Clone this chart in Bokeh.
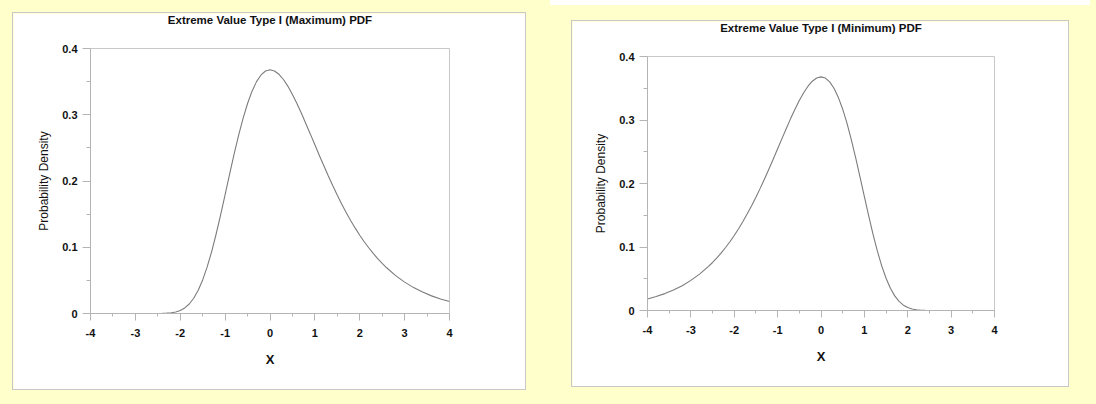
from bokeh.plotting import figure
from bokeh.layouts import row
from bokeh.models import Range1d, FixedTicker, Title
from bokeh.embed import file_html
from bokeh.resources import INLINE

# ---- data ----
x_vals = [-4.0, -3.8, -3.6, -3.4, -3.2, -3.0, -2.8, -2.6,
          -2.5, -2.4, -2.3, -2.2, -2.1, -2.0, -1.9, -1.8, -1.7, -1.6, -1.5, -1.4, -1.3,
          -1.2, -1.1, -1.0, -0.9, -0.8, -0.7, -0.6, -0.5, -0.4, -0.3, -0.2, -0.1, 0.0,
          0.1, 0.2, 0.3, 0.4, 0.5, 0.6, 0.7, 0.8, 0.9, 1.0, 1.1, 1.2, 1.3, 1.4, 1.5,
          1.6, 1.7, 1.8, 1.9, 2.0, 2.1, 2.2, 2.3, 2.4, 2.5,
          2.6, 2.8, 3.0, 3.2, 3.4, 3.6, 3.8, 4.0]

pdf_max = [0.0, 0.0, 0.0, 0.0, 0.0, 0.0, 0.0, 0.00002,
           0.00006, 0.0002, 0.0005, 0.0011, 0.0023, 0.0046, 0.0084, 0.0143, 0.0230, 0.0350,
           0.0507, 0.0703, 0.0935, 0.1200, 0.1489, 0.1794, 0.2102, 0.2404, 0.2688, 0.2946,
           0.3170, 0.3356, 0.3500, 0.3601, 0.3660, 0.3679, 0.3661, 0.3611, 0.3532, 0.3429,
           0.3307, 0.3170, 0.3022, 0.2865, 0.2707, 0.2546, 0.2386, 0.2229, 0.2075, 0.1927,
           0.1785, 0.1650, 0.1522, 0.1401, 0.1288, 0.1182, 0.1083, 0.0992, 0.0907, 0.0828,
           0.0756,
           0.0690, 0.0572, 0.0474, 0.0391, 0.0323, 0.0266, 0.0219, 0.0180]

pdf_min = [0.0180, 0.0219, 0.0266, 0.0323, 0.0391, 0.0474, 0.0572, 0.0690,
           0.0756, 0.0828, 0.0907, 0.0992, 0.1083, 0.1182, 0.1288, 0.1401, 0.1522, 0.1650,
           0.1785, 0.1927, 0.2075, 0.2229, 0.2386, 0.2546, 0.2707, 0.2865, 0.3022, 0.3170,
           0.3307, 0.3429, 0.3532, 0.3611, 0.3661, 0.3679, 0.3660, 0.3601, 0.3500, 0.3356,
           0.3170, 0.2946, 0.2688, 0.2404, 0.2102, 0.1794, 0.1489, 0.1200, 0.0935, 0.0703,
           0.0507, 0.0350, 0.0230, 0.0143, 0.0084, 0.0046, 0.0023, 0.0011, 0.0005, 0.0002,
           0.00006,
           0.00002, 0.0, 0.0, 0.0, 0.0, 0.0, 0.0, 0.0]

x_ticks = [-4, -3, -2, -1, 0, 1, 2, 3, 4]
x_minor = [-3.5, -2.5, -1.5, -0.5, 0.5, 1.5, 2.5, 3.5]
x_labels = {-4: "-4", -3: "-3", -2: "-2", -1: "-1", 0: "0", 1: "1", 2: "2", 3: "3", 4: "4"}
y_ticks = [0, 0.1, 0.2, 0.3, 0.4]
y_minor = [0.05, 0.15, 0.25, 0.35]
y_labels = {0: "0", 0.1: "0.1", 0.2: "0.2", 0.3: "0.3", 0.4: "0.4"}

titles = ["Extreme Value Type I (Maximum) PDF", "Extreme Value Type I (Minimum) PDF"]
x_label = "X"
y_label = "Probability Density"

FONT = "Liberation Sans"
AXIS_GRAY = "#b4b4b4"


def make(title, ys, fw, fh, ml, mr, mt, mb, margin):
    p = figure(width=ml + fw + mr, height=mt + fh + mb, title=None,
               x_range=Range1d(-4, 4), y_range=Range1d(0, 0.4),
               output_backend="svg", toolbar_location=None,
               min_border_left=ml, min_border_right=mr,
               min_border_top=mt, min_border_bottom=mb,
               margin=margin,
               styles={"outline": "1px solid #c8c8c8"})
    # a trailing empty line makes the title box tall, so its text sits at the top edge
    p.add_layout(Title(text=title + "\n", align="center", vertical_align="top",
                       text_font=FONT, text_font_size="11.5px", text_font_style="bold",
                       text_line_height=1.75, text_color="#111111", standoff=0), "above")
    p.background_fill_color = "white"
    p.border_fill_color = "white"
    p.outline_line_color = "#c8c8c8"
    p.grid.visible = False

    p.xaxis.ticker = FixedTicker(ticks=x_ticks, minor_ticks=x_minor)
    p.yaxis.ticker = FixedTicker(ticks=y_ticks, minor_ticks=y_minor)
    p.xaxis.major_label_overrides = x_labels
    p.yaxis.major_label_overrides = y_labels

    for ax in (p.xaxis[0], p.yaxis[0]):
        ax.axis_line_color = AXIS_GRAY
        ax.major_tick_line_color = AXIS_GRAY
        ax.minor_tick_line_color = AXIS_GRAY
        ax.major_tick_in = 0
        ax.minor_tick_in = 0
        ax.major_label_text_font = FONT
        ax.major_label_text_font_size = "11px"
        ax.major_label_text_font_style = "bold"
        ax.major_label_text_color = "#111111"
        ax.axis_label_text_font = FONT
        ax.axis_label_text_color = "#111111"

    p.xaxis.major_tick_out = 7
    p.xaxis.minor_tick_out = 3
    p.yaxis.major_tick_out = 8
    p.yaxis.minor_tick_out = 4
    p.xaxis.major_label_standoff = 8
    p.yaxis.major_label_standoff = 5

    p.xaxis.axis_label = x_label
    p.xaxis.axis_label_text_font_size = "13px"
    p.xaxis.axis_label_text_font_style = "bold"
    p.xaxis.axis_label_standoff = 12
    p.yaxis.axis_label = y_label
    p.yaxis.axis_label_text_font_size = "12px"
    p.yaxis.axis_label_text_font_style = "normal"
    p.yaxis.axis_label_standoff = 8

    p.line(x_vals, ys, line_color="#7c7c7c", line_width=1.1)
    return p


p1 = make(titles[0], pdf_max, 359, 265, 77, 76, 35, 76, (13, 0, 0, 13))
p2 = make(titles[1], pdf_min, 347, 257, 75, 74, 35, 73, (21, 0, 0, 47))

layout = row(p1, p2)

html = file_html(layout, INLINE)
css = ("<style>html,body{background:#FFFFCC;}"
       "body::before{content:'';position:absolute;left:550px;top:0;width:540px;"
       "height:5px;background:#ffffff;}</style>")
html = html.replace("</head>", css + "</head>", 1)
open("out.html", "w").write(html)
